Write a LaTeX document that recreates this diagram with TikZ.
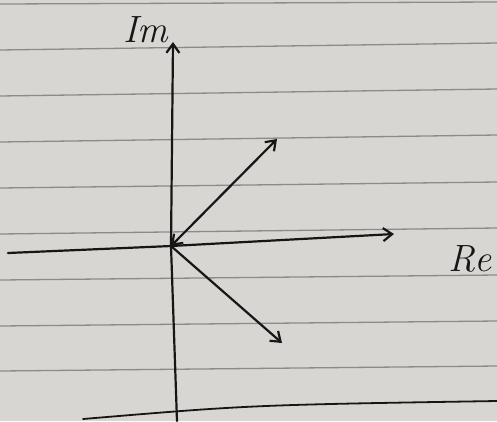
\documentclass[tikz,border=0pt]{standalone}
\usepackage{tikz}
\usetikzlibrary{arrows.meta}
\definecolor{paperc}{RGB}{216,214,210}
\definecolor{rulec}{RGB}{140,139,137}
\definecolor{inkc}{RGB}{22,22,22}

\begin{document}
\begin{tikzpicture}[x=1pt, y=-1pt,
    ink/.style={draw=inkc, line width=2.2pt, line cap=round},
    ruled/.style={draw=rulec, line width=1.3pt},
    lbl/.style={font=\itshape\fontsize{38}{38}\selectfont, text=inkc, inner sep=0pt},
    >={Straight Barb[length=9pt,width=13pt]}
]
% paper
\fill[paperc] (0,0) rectangle (497,421);
\useasboundingbox (0,0) rectangle (497,421);
\foreach \y/\d in {4/-2,50/-7,96/-7,142/-7,188/-6,234/-6,280/-5,326/-5,371/-5}
    \draw[ruled] (0,\y) -- (497,\y+\d);
\draw[ink, line width=1.8pt] (83,419) .. controls (250,405) .. (497,401);
% axes
\coordinate (o) at (171,246);
\coordinate (imtop) at (173,42);
\coordinate (imbot) at (177,421);
\coordinate (reL) at (8,253);
\coordinate (reR) at (394,234);
\draw[ink] (o) -- (imbot);
\draw[ink, ->] (o) -- (imtop);
\draw[ink] (o) -- (reL);
\draw[ink, ->] (o) -- (reR);
\node[lbl] (im) at (146,30) {Im};
\node[lbl] (re) at (470,259) {Re};
% vectors
\coordinate (z1) at (277,139);
\coordinate (z2) at (282,343);
\draw[ink, <->] (o) -- (z1);
\draw[ink, ->] (o) -- (z2);
\end{tikzpicture}
\end{document}
